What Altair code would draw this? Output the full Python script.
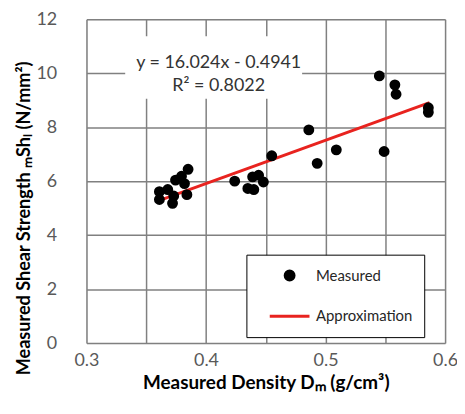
import altair as alt
import pandas as pd

# Measured points (density g/cm3, shear strength N/mm2)
density = [0.361, 0.361, 0.368, 0.372, 0.373, 0.3745, 0.3795, 0.382, 0.384, 0.385,
           0.424, 0.435, 0.439, 0.440, 0.444, 0.448,
           0.455, 0.486, 0.493, 0.509, 0.545, 0.549, 0.558, 0.559, 0.586, 0.586]
strength = [5.61, 5.32, 5.69, 5.18, 5.45, 6.04, 6.18, 5.91, 5.50, 6.44,
            6.00, 5.73, 6.16, 5.69, 6.22, 5.97,
            6.94, 7.90, 6.66, 7.16, 9.90, 7.10, 9.57, 9.22, 8.72, 8.55]

# Approximation line end points
line_x = [0.360, 0.587]
line_y = [5.27, 8.91]

eq_lines = ["y = 16.024x - 0.4941", "R² = 0.8022"]
eq_x = [0.4106, 0.4106]
eq_y = [10.38, 9.52]
eq_box = {"x": [0.3324], "x2": [0.4804], "y": [11.37], "y2": [9.05]}

series = ["Measured", "Approximation"]
colors = ["#000000", "#e8231f"]

FONT = "Lato"

pts = pd.DataFrame({"x": density, "y": strength, "series": "Measured"})
ln = pd.DataFrame({"x": line_x, "y": line_y, "series": "Approximation"})
eq = pd.DataFrame({"x": eq_x, "y": eq_y, "t": eq_lines})
box = pd.DataFrame(eq_box)

xscale = alt.Scale(domain=[0.3, 0.6], nice=False, zero=False)
yscale = alt.Scale(domain=[0, 12], nice=False)

xaxis = alt.Axis(
    values=[0.3, 0.35, 0.4, 0.45, 0.5, 0.55, 0.6],
    labelExpr="(round(datum.value*100) % 10 == 0) ? format(datum.value, '.1f') : ''",
    title="Measured Density Dₘ (g/cm³)",
    ticks=False, domain=False, labelPadding=9, labelFontSize=18, labelFlush=False,
    labelColor="#595959", labelFont=FONT,
    titleFont=FONT, titleFontSize=19, titleFontWeight="bold", titleColor="#000000",
    titleY=40, titleBaseline="middle",
    grid=True, gridColor="#808080", gridWidth=1.5,
)
yaxis = alt.Axis(
    values=[0, 2, 4, 6, 8, 10, 12], format="d",
    title="Measured Shear Strength ₘShₗ (N/mm²)",
    ticks=False, domain=False, labelPadding=30, labelFontSize=18,
    labelColor="#595959", labelFont=FONT,
    titleFont=FONT, titleFontSize=18.2, titleFontWeight="bold", titleColor="#000000",
    titleX=-62, titleY=200, titleBaseline="middle",
    grid=True, gridColor="#808080", gridWidth=1.5,
)

legend = alt.Legend(
    title=None, orient="none", legendX=161, legendY=237,
    fillColor="white", strokeColor="#000000",
    padding=11, symbolOffset=11, labelOffset=5, clipHeight=20, rowPadding=21,
    labelFont=FONT, labelFontSize=15, labelColor="#262626",
    labelExpr="datum.label + '  '",
    symbolStrokeWidth=3,
)

cscale = alt.Scale(domain=series, range=colors)

points = alt.Chart(pts).mark_point(filled=True, opacity=1, size=100).encode(
    x=alt.X("x:Q", scale=xscale, axis=xaxis),
    y=alt.Y("y:Q", scale=yscale, axis=yaxis),
    color=alt.Color("series:N", scale=cscale, legend=legend),
    stroke=alt.Stroke("series:N", scale=cscale, legend=legend),
    shape=alt.Shape("series:N", scale=alt.Scale(domain=series, range=["circle", "stroke"]), legend=legend),
    size=alt.Size("series:N", scale=alt.Scale(domain=series, range=[80, 1600]), legend=legend),
)

line = alt.Chart(ln).mark_line(strokeWidth=3).encode(
    x="x:Q", y="y:Q",
    color=alt.Color("series:N", scale=cscale, legend=legend),
)

rect = alt.Chart(box).mark_rect(color="white").encode(
    x="x:Q", x2="x2:Q", y="y:Q", y2="y2:Q"
)

text = alt.Chart(eq).mark_text(font=FONT, fontSize=18, color="#333333", baseline="middle").encode(
    x="x:Q", y="y:Q", text="t:N"
)

chart = alt.layer(rect, line, points, text).properties(
    width=361, height=326,
    padding={"left": 79, "top": 10, "right": 12, "bottom": 60},
    autosize="none",
).configure_view(stroke="#000000", strokeWidth=2.5).configure_legend(
    strokeWidth=1.8
).configure(background="white")

chart.save("out.html", embed_options={"renderer": "svg", "actions": False})
